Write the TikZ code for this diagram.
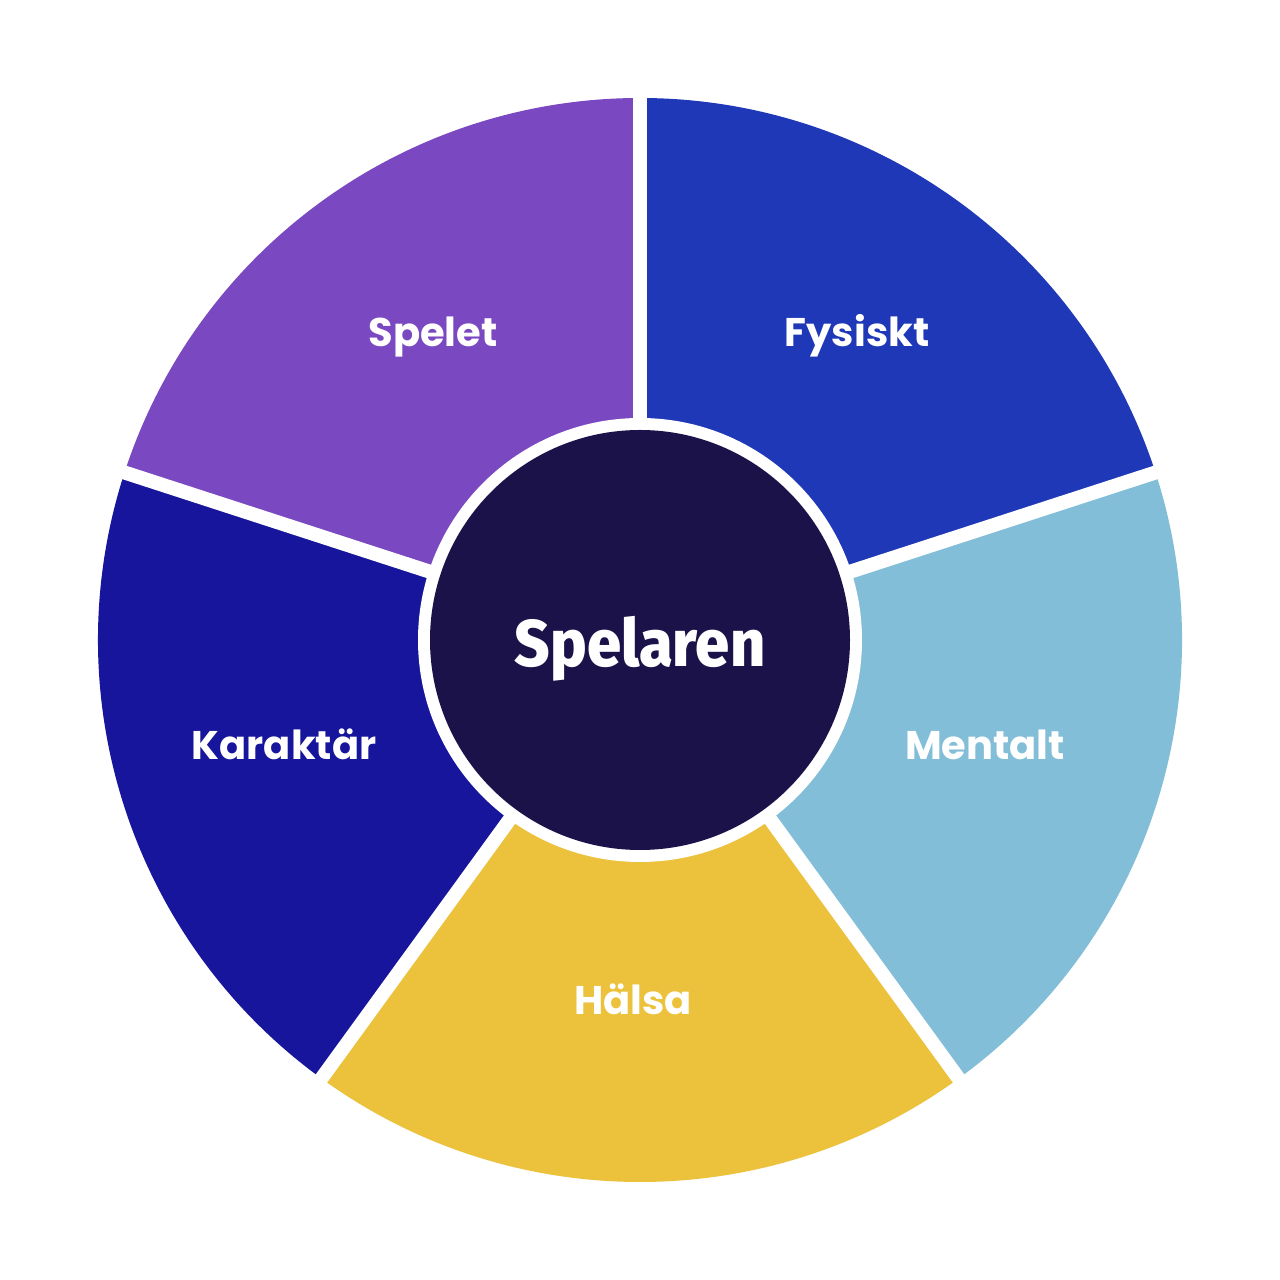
\documentclass[tikz,border=0pt]{standalone}
\usepackage{fontspec}
\usetikzlibrary{calc}
\setmainfont{Poppins}[BoldFont=* Bold]
\newfontfamily\centerfont{Fira Sans}[BoldFont=* ExtraBold, FakeStretch=0.93]
\definecolor{cFys}{HTML}{1E38B7}
\definecolor{cMen}{HTML}{83BED8}
\definecolor{cHal}{HTML}{ECC13B}
\definecolor{cKar}{HTML}{16159B}
\definecolor{cSpe}{HTML}{7A48C0}
\definecolor{cMid}{HTML}{1B124A}
\tikzset{
  seglabel/.style={text=white, font=\bfseries\fontsize{40}{42}\selectfont, inner sep=0pt, anchor=base},
  gapline/.style={white, line width=14pt},
}
\begin{document}
\begin{tikzpicture}[x=1pt,y=1pt]
\useasboundingbox (0,0) rectangle (1280,1280);
\fill[white] (0,0) rectangle (1280,1280);
\coordinate (c) at (640,640);
\def\R{542}
\fill[cFys] (c) -- ++(18:\R) arc[start angle=18, end angle=90, radius=\R] -- cycle;
\fill[cMen] (c) -- ++(-54:\R) arc[start angle=-54, end angle=18, radius=\R] -- cycle;
\fill[cHal] (c) -- ++(-126:\R) arc[start angle=-126, end angle=-54, radius=\R] -- cycle;
\fill[cKar] (c) -- ++(162:\R) arc[start angle=162, end angle=234, radius=\R] -- cycle;
\fill[cSpe] (c) -- ++(90:\R) arc[start angle=90, end angle=162, radius=\R] -- cycle;
\foreach \a/\n in {90/g1,18/g2,-54/g3,-126/g4,162/g5}{
  \coordinate (\n) at ($(c)+(\a:\R+5)$);
  \draw[gapline] (c) -- (\n);
}
\fill[white] (c) circle[radius=222];
\node[circle, fill=cMid, minimum size=420pt, inner sep=0pt] (mid) at (c) {};
\node[text=white, inner sep=0pt, anchor=base, font=\centerfont\bfseries\fontsize{66}{68}\selectfont] (sp) at (640,613) {Spelaren};
\node[seglabel] (spelet) at (433,933) {Spelet};
\node[seglabel] (fys) at (857,933) {Fysiskt};
\node[seglabel] (men) at (985,520) {Mentalt};
\node[seglabel] (hal) at (633,265) {Hälsa};
\node[seglabel] (kar) at (284,520) {Karaktär};
\end{tikzpicture}
\end{document}
